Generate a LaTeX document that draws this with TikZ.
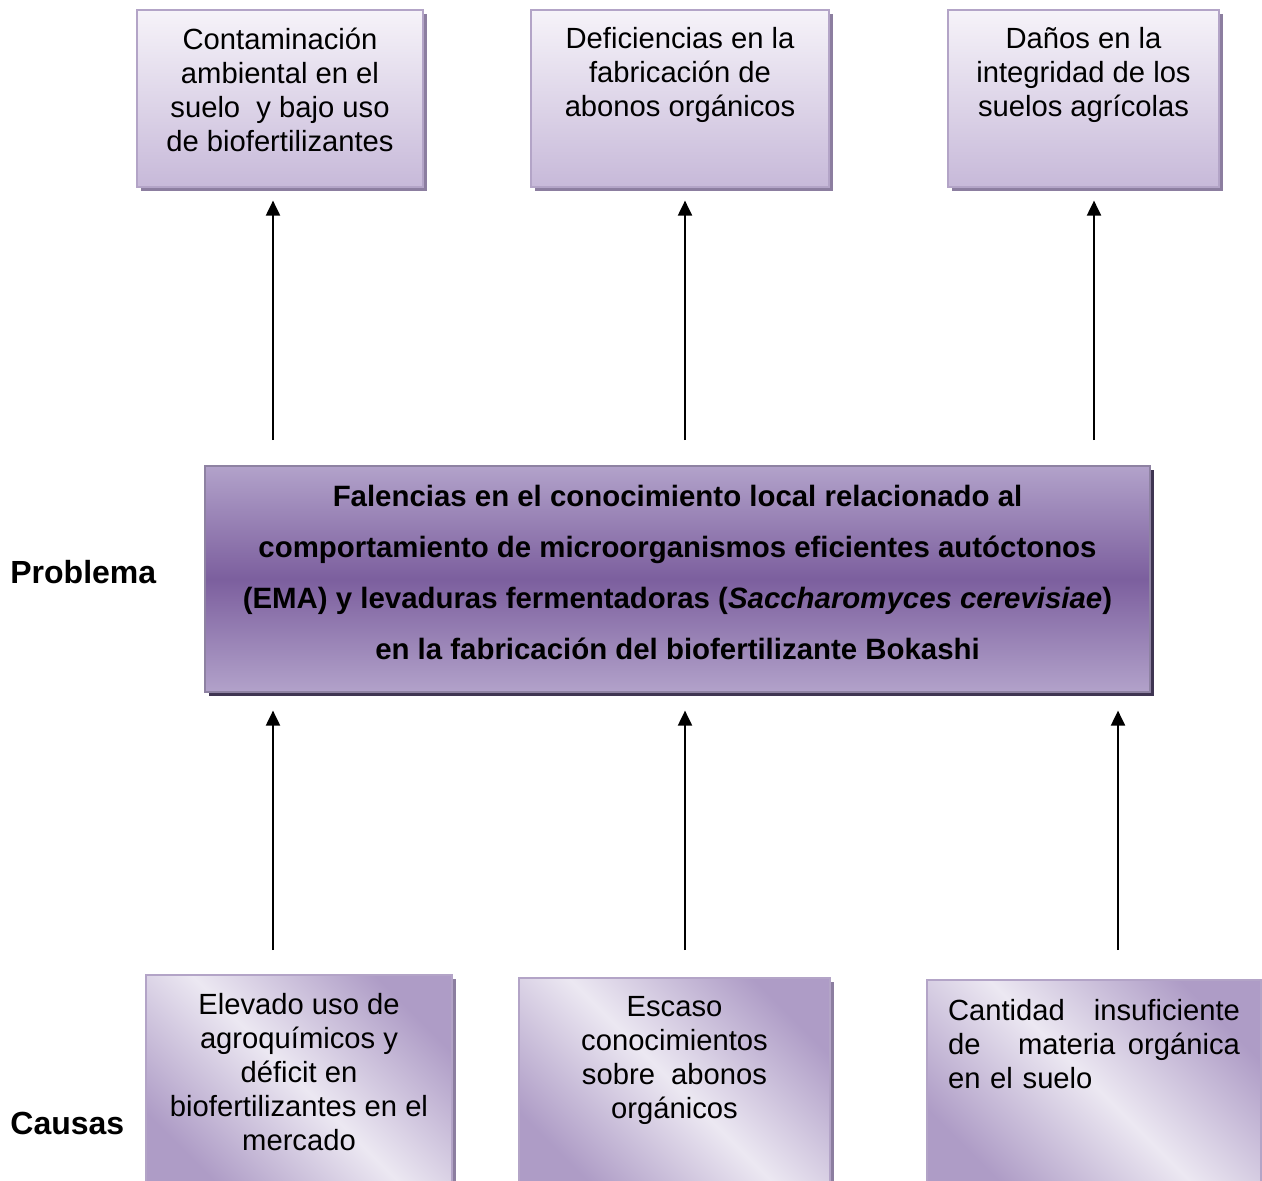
\documentclass[tikz,border=0pt]{standalone}
\usepackage{fontspec}
\setmainfont{Liberation Sans}
\usetikzlibrary{arrows.meta,positioning,shadows}
\definecolor{lilaclight}{HTML}{F6F3F9}
\definecolor{lilac}{HTML}{C7B9D9}
\definecolor{lilacedge}{HTML}{B3A4C7}
\definecolor{lilacshadow}{HTML}{8C7EA0}
\definecolor{violetpale}{HTML}{B2A2CA}
\definecolor{violetdeep}{HTML}{7C5F9E}
\definecolor{violetshadow}{HTML}{3F3552}
\definecolor{causelight}{HTML}{ECE8F2}
\definecolor{causedark}{HTML}{AE9CC6}
\tikzset{
  up/.style={-{Triangle[length=7.5pt,width=7pt]},line width=1pt,black},
  efbox/.style={draw=lilacedge,line width=0.6pt,inner sep=0pt,
    top color=lilaclight,bottom color=lilac,
    drop shadow={shadow xshift=2pt,shadow yshift=-2pt,fill=lilacshadow,opacity=1}},
  probbox/.style={draw=violetpale!80!black,line width=0.6pt,inner sep=0pt,
    top color=violetpale,bottom color=violetpale,middle color=violetdeep,
    drop shadow={shadow xshift=2pt,shadow yshift=-2pt,fill=violetshadow,opacity=1}},
  probtext/.style={inner sep=0pt,align=center,font=\bfseries\fontsize{14.7pt}{25.5pt}\selectfont},
  causebox/.style={draw=lilacedge,line width=0.6pt,inner sep=0pt,
    top color=causedark,bottom color=causedark,middle color=causelight,shading angle=-45,
    drop shadow={shadow xshift=2pt,shadow yshift=-2pt,fill=lilacshadow,opacity=1}},
  boxtext/.style={inner sep=0pt,align=center,font=\fontsize{14.6pt}{17pt}\selectfont},
  side/.style={inner sep=0pt,anchor=west,font=\bfseries\fontsize{16pt}{18pt}\selectfont}
}
\begin{document}
\begin{tikzpicture}[x=0.5pt,y=0.5pt]
\useasboundingbox (0,0) rectangle (1262,1180);
\clip (0,0) rectangle (1262,1180);
% efectos
\node[efbox,minimum width=143pt,minimum height=88.5pt] (ef1) at (280,1081.5) {};
\node[efbox,minimum width=149pt,minimum height=88.5pt] (ef2) at (680,1081.5) {};
\node[efbox,minimum width=135.5pt,minimum height=88.5pt] (ef3) at (1083.5,1081.5) {};
\node[boxtext,below=9pt of ef1.north] (ef1t) {Contaminación\\ambiental en el\\suelo \ y bajo uso\\de biofertilizantes};
\node[boxtext,below=9pt of ef2.north] (ef2t) {Deficiencias en la\\fabricación de\\abonos orgánicos};
\node[boxtext,below=9pt of ef3.north] (ef3t) {Daños en la\\integridad de los\\suelos agrícolas};
% problema
\node[probbox,minimum width=472.5pt,minimum height=113pt] (prob) at (677.5,601) {};
\node[probtext] (probt) at ([yshift=3.5pt]prob.center)
  {Falencias en el conocimiento local relacionado al\\
   comportamiento de microorganismos eficientes autóctonos\\
   (EMA) y levaduras fermentadoras (\textit{Saccharomyces cerevisiae})\\
   en la fabricación del biofertilizante Bokashi};
\node[side] (lblprob) at (10,608) {Problema};
% causas
\node[causebox,minimum width=153pt,minimum height=107.5pt] (cb1) at (299,97.5) {};
\node[causebox,minimum width=155.5pt,minimum height=106pt] (cb2) at (674.5,96) {};
\node[causebox,minimum width=167pt,minimum height=105pt] (cb3) at (1094,95) {};
\node[boxtext,below=9.5pt of cb1.north] (cb1t) {Elevado uso de\\agroquímicos y\\déficit en\\biofertilizantes en el\\mercado};
\node[boxtext,below=9.5pt of cb2.north] (cb2t) {Escaso\\conocimientos\\sobre \ abonos\\orgánicos};
\node[boxtext,align=left,text width=146pt,below=10pt of cb3.north] (cb3t) {Cantidad\hfill insuficiente\\de\hfill\hfill\hfill materia\hfill orgánica\\en el suelo};
\node[side] (lblcausas) at (10,57) {Causas};
% flechas
\coordinate (p1) at (273,740);
\coordinate (p2) at (685,740);
\coordinate (p3) at (1094,740);
\draw[up,shorten >=6.5pt] (p1) -- (p1 |- ef1.south);
\draw[up,shorten >=6.5pt] (p2) -- (p2 |- ef2.south);
\draw[up,shorten >=6.5pt] (p3) -- (p3 |- ef3.south);
\coordinate (c1) at (273,230);
\coordinate (c2) at (685,230);
\coordinate (c3) at (1118,230);
\draw[up,shorten >=9pt] (c1) -- (c1 |- prob.south);
\draw[up,shorten >=9pt] (c2) -- (c2 |- prob.south);
\draw[up,shorten >=9pt] (c3) -- (c3 |- prob.south);
\end{tikzpicture}
\end{document}
